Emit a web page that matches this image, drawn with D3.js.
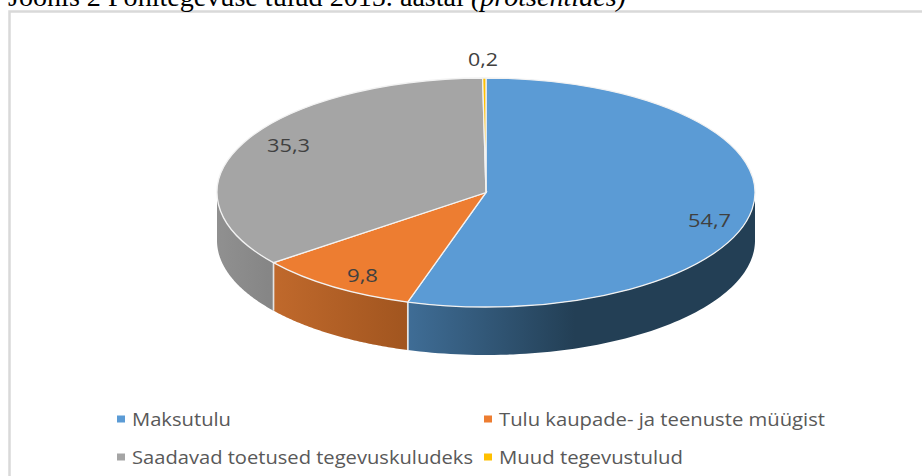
<!DOCTYPE html>
<html>
<head>
<meta charset="utf-8">
<script src="https://cdn.jsdelivr.net/npm/d3@7"></script>
<style>
html,body{margin:0;padding:0;background:#fff;overflow:hidden}
text{font-family:"Open Sans",sans-serif}
</style>
</head>
<body>
<svg id="c" width="922" height="476"></svg>
<script>
const categories = ["Maksutulu","Tulu kaupade- ja teenuste müügist","Saadavad toetused tegevuskuludeks","Muud tegevustulud"];
const values = [54.7,9.8,35.3,0.2];
const labels = ["54,7","9,8","35,3","0,2"];
const colors = ["#5b9bd5","#ed7d31","#a5a5a5","#ffc000"];
const titleText = "Joonis 2 Põhitegevuse tulud 2015. aastal ";
const titleItalic = "(protsentides)";

const cx=486, cy=192.5, rx=269, ry=114.5, depth=48;
const svg=d3.select("#c");
const defs=svg.append("defs");
function grad(id,x1,x2,stops){
  const g=defs.append("linearGradient").attr("id",id).attr("gradientUnits","userSpaceOnUse")
    .attr("x1",x1).attr("x2",x2).attr("y1",0).attr("y2",0);
  stops.forEach(s=>g.append("stop").attr("offset",s[0]).attr("stop-color",s[1]));
}
grad("g0",408,575,[[0,"#3f6d96"],[1,"#233f55"]]);
grad("g1",273,408,[[0,"#c0692c"],[1,"#a1551f"]]);
grad("g2",217,273,[[0,"#909090"],[1,"#858585"]]);
grad("g3",217,273,[[0,"#909090"],[1,"#858585"]]);

// frame
svg.append("path").attr("d","M9.5,476V11.5H922").attr("fill","none").attr("stroke","#d9d9d9").attr("stroke-width",2.5);

// title
const t=svg.append("text").attr("x",8).attr("y",5.5).attr("fill","#000")
  .style("font-family","'Liberation Serif',serif").style("font-size","27px")
  .attr("textLength",618).attr("lengthAdjust","spacingAndGlyphs");
t.append("tspan").text(titleText);
t.append("tspan").style("font-style","italic").text(titleItalic);

const arcs=d3.pie().sort(null).value(d=>d)(values);
const px=a=>cx+rx*Math.sin(a), py=a=>cy-ry*Math.cos(a);
const g=svg.append("g");

// side walls (only the front half of the rim, angles in [PI/2, 3PI/2])
arcs.forEach((d,i)=>{
  const a0=Math.max(d.startAngle,Math.PI/2), a1=Math.min(d.endAngle,Math.PI*1.5);
  if(a1<=a0) return;
  const n=80, top=d3.range(n+1).map(k=>a0+(a1-a0)*k/n);
  const pts=top.map(a=>[px(a),py(a)]).concat(top.slice().reverse().map(a=>[px(a),py(a)+depth]));
  g.append("path").attr("d",d3.line()(pts)+"Z").attr("fill",`url(#g${i})`);
  [a0,a1].forEach(a=>{ if(a>Math.PI/2+1e-6 && a<Math.PI*1.5-1e-6)
    g.append("path").attr("d",d3.line()([[px(a),py(a)],[px(a),py(a)+depth]])).attr("stroke","#e4e4e4").attr("stroke-width",1.5).attr("fill","none");});
});

// top face
const arc=d3.arc().innerRadius(0).outerRadius(rx);
g.append("g").attr("transform",`translate(${cx},${cy}) scale(1,${ry/rx})`)
 .selectAll("path").data(arcs).join("path").attr("d",arc)
 .attr("fill",(d,i)=>colors[i]).attr("stroke","#f2f2f2").attr("stroke-width",1.3)
 .attr("vector-effect","non-scaling-stroke");

// data labels
const labelPos=[[709.5,220.5],[362.5,276],[288.5,146],[483,60]];
const labelWidth=[43,31,43,30];
svg.append("g").selectAll("text").data(labels).join("text")
 .attr("x",(d,i)=>labelPos[i][0]).attr("y",(d,i)=>labelPos[i][1])
 .attr("dy","0.36em").attr("text-anchor","middle")
 .attr("textLength",(d,i)=>labelWidth[i]).attr("lengthAdjust","spacingAndGlyphs")
 .attr("fill","#404040").style("font-size","18px").text(d=>d);

// legend
const legendPos=[[117,419],[484,419],[117,457],[484,457]];
const legendWidth=[99,326,341,184];
const lg=svg.append("g").selectAll("g").data(categories).join("g")
 .attr("transform",(d,i)=>`translate(${legendPos[i][0]},${legendPos[i][1]})`);
lg.append("rect").attr("x",0).attr("y",-3.5).attr("width",8).attr("height",7).attr("fill",(d,i)=>colors[i]);
lg.append("text").attr("x",15).attr("y",0.5).attr("dy","0.36em").attr("fill","#595959").style("font-size","18px")
 .attr("textLength",(d,i)=>legendWidth[i]).attr("lengthAdjust","spacingAndGlyphs").text(d=>d);
</script>
</body>
</html>
